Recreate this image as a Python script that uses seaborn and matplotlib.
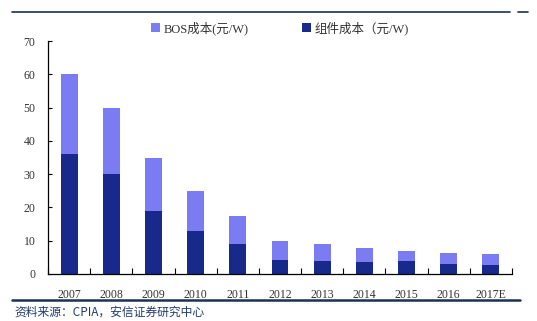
import matplotlib
matplotlib.use("Agg")
import matplotlib.pyplot as plt
import seaborn as sns
import pandas as pd
import numpy as np
from matplotlib.lines import Line2D
from matplotlib.patches import Patch

years = ["2007", "2008", "2009", "2010", "2011", "2012", "2013", "2014", "2015", "2016", "2017E"]
module_cost = [36, 30, 19, 13, 9, 4.2, 3.9, 3.6, 3.9, 3.1, 2.8]
bos_cost = [24, 20, 16, 12, 8.5, 5.7, 5.0, 4.3, 3.0, 3.3, 3.1]
labels = ["BOS成本(元/W)", "组件成本（元/W)"]

sns.set_theme(style="white")
plt.rcParams['font.family'] = ['Liberation Serif', 'Noto Sans CJK SC', 'DejaVu Sans']

df = pd.DataFrame({"year": years, "module": module_cost, "bos": bos_cost})
df["total"] = df["module"] + df["bos"]

light = "#7B7BF2"
dark = "#172A8C"

fig = plt.figure(figsize=(5.37, 3.21), dpi=100)
ax = fig.add_axes([48/537, 1-274/321, (512-48)/537, (274-41)/321])

sns.barplot(data=df, x="year", y="total", color=light, saturation=1, width=0.4, ax=ax,
            linewidth=0, edgecolor="none")
sns.barplot(data=df, x="year", y="module", color=dark, saturation=1, width=0.4, ax=ax,
            linewidth=0, edgecolor="none")

ax.set_ylim(0, 70)
ax.set_xlim(-0.5, len(years)-0.5)
ax.set_yticks(range(0, 71, 10))
ax.set_xlabel("")
ax.set_ylabel("")
for s in ["top", "right"]:
    ax.spines[s].set_visible(False)
for s in ["left", "bottom"]:
    ax.spines[s].set_color("black")
    ax.spines[s].set_linewidth(0.9)
ax.tick_params(axis="y", direction="in", length=3, width=0.8, colors="black", labelcolor="#333333", labelsize=8.5, pad=9, left=True)
ax.tick_params(axis="x", bottom=False, labelcolor="#333333", labelsize=8.5, pad=5)
ax.set_xticks(np.arange(-0.5, len(years)), minor=True)
ax.tick_params(axis="x", which="minor", direction="in", length=4, width=0.8, colors="black", bottom=True)

handles = [Patch(facecolor=light, edgecolor="none"), Patch(facecolor=dark, edgecolor="none")]
fig.legend(handles, labels, loc="center", bbox_to_anchor=(280/537, 1-28/321), ncol=2, frameon=False,
           fontsize=9, handlelength=0.7, handleheight=0.7, handletextpad=0.3, columnspacing=4.3,
           labelcolor="#333333")

fig.add_artist(Line2D([12/537, 510/537], [1-12/321, 1-12/321], color="#1B3150", lw=1.2))
fig.add_artist(Line2D([518/537, 528/537], [1-12/321, 1-12/321], color="#1B3150", lw=1.2))
fig.add_artist(Line2D([12/537, 520/537], [1-300/321, 1-300/321], color="#1B3150", lw=1.8))
fig.text(14/537, 1-312/321, "资料来源：CPIA，安信证券研究中心", fontsize=8.5, style="italic",
         color="#1F3A6E", va="center", ha="left", family=["Noto Sans CJK SC", "DejaVu Sans"])

fig.savefig("out.png", dpi=100)
